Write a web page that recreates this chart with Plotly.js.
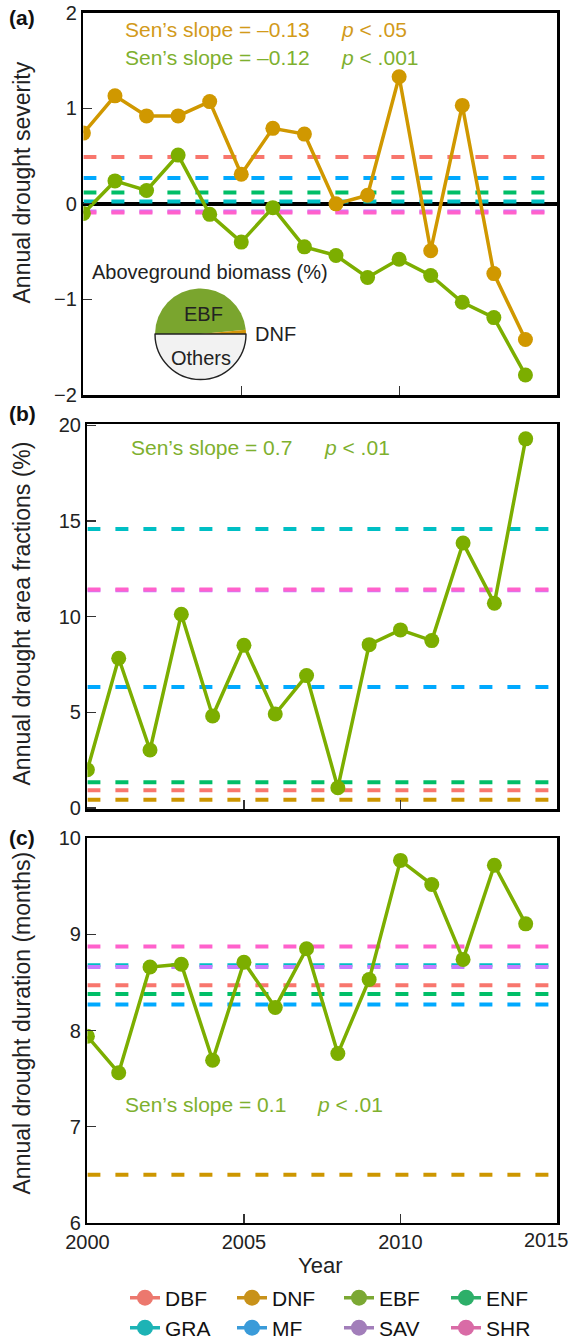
<!DOCTYPE html>
<html>
<head>
<meta charset="utf-8">
<script src="https://cdn.plot.ly/plotly-3.0.1.min.js"></script>
<style>
html, body { margin: 0; padding: 0; background: #ffffff; }
#chart { width: 573px; height: 1340px; }
</style>
</head>
<body>
<div id="chart"></div>
<script>
// ---------------- data ----------------
const years = [2000, 2001, 2002, 2003, 2004, 2005, 2006, 2007, 2008, 2009, 2010, 2011, 2012, 2013, 2014];
const xRange = [2000, 2015];
const yearTicks = [2000, 2005, 2010, 2015];
const yearTickText = ['2000', '2005', '2010', '2015'];

// (a) annual drought severity
const severityDNF = [0.74, 1.13, 0.92, 0.92, 1.07, 0.31, 0.79, 0.73, 0.00, 0.09, 1.33, -0.49, 1.03, -0.73, -1.42];
const severityEBF = [-0.10, 0.24, 0.14, 0.51, -0.11, -0.40, -0.04, -0.45, -0.54, -0.77, -0.58, -0.75, -1.03, -1.19, -1.79];
// (b) annual drought area fractions (%)
const areaEBF = [2.0, 7.83, 3.03, 10.13, 4.81, 8.51, 4.91, 6.92, 1.06, 8.54, 9.31, 8.75, 13.85, 10.7, 19.3];
// (c) annual drought duration (months)
const durationEBF = [7.94, 7.56, 8.66, 8.69, 7.69, 8.71, 8.24, 8.85, 7.76, 8.53, 9.77, 9.52, 8.74, 9.72, 9.11];

// vegetation types and their multi-year means (dashed reference lines)
const types = ['DBF', 'DNF', 'EBF', 'ENF', 'GRA', 'MF', 'SAV', 'SHR'];
const lineColors = ['#F8766D', '#CD9600', '#7CAE00', '#00BE67', '#00BFC4', '#00A9FF', '#C77CFF', '#FF61CC'];
const legendColors = ['#EC786E', '#C8921A', '#7BA833', '#2DAF69', '#1DB3B5', '#3A9BD9', '#A27EBA', '#D96BA6'];
const severityMeans = [0.49, null, null, 0.12, 0.025, 0.27, -0.08, -0.09];
const areaMeans = [0.93, 0.43, null, 1.35, 14.58, 6.33, 11.38, 11.42];
const durationMeans = [8.47, 6.5, null, 8.38, 8.68, 8.27, 8.66, 8.875];

// aboveground biomass share (%) inset pie
const biomassLabels = ['EBF', 'DNF', 'Others'];
const biomassShares = [48.5, 1.5, 50];
const biomassColors = ['#7AA52E', '#D3960A', '#F2F2F2'];

// trend annotations
const trendTexts = ['Sen\u2019s slope = \u20130.13', 'Sen\u2019s slope = \u20130.12', 'Sen\u2019s slope = 0.7', 'Sen\u2019s slope = 0.1'];
const pTexts = ['<i>p</i> &lt; .05', '<i>p</i> &lt; .001', '<i>p</i> &lt; .01', '<i>p</i> &lt; .01'];

// ---------------- helpers ----------------
const W = 573, H = 1340;
const px = v => v / W;
const py = v => 1 - v / H;
const FONT = 'Liberation Sans, Arial, Helvetica, sans-serif';
const DNFcol = '#D09800';
const EBFcol = '#7CAE00';
const textGold = '#D29A1A';
const textGreen = '#7EB02E';

const traces = [];

function meanLines(means, xa, ya) {
  means.forEach((m, i) => {
    if (m === null) return;
    traces.push({
      type: 'scatter', mode: 'lines', x: xRange, y: [m, m],
      xaxis: xa, yaxis: ya, showlegend: false, hoverinfo: 'skip',
      line: { color: lineColors[i], width: 4, dash: '13px,15px' }
    });
  });
}

function series(yvals, color, xa, ya) {
  traces.push({
    type: 'scatter', mode: 'lines+markers', x: years, y: yvals,
    xaxis: xa, yaxis: ya, showlegend: false,
    line: { color: color, width: 3.5 },
    marker: { color: color, size: 15 }
  });
}

meanLines(severityMeans, 'x', 'y');
series(severityDNF, DNFcol, 'x', 'y');
series(severityEBF, EBFcol, 'x', 'y');

meanLines(areaMeans, 'x2', 'y2');
series(areaEBF, EBFcol, 'x2', 'y2');

meanLines(durationMeans, 'x3', 'y3');
series(durationEBF, EBFcol, 'x3', 'y3');

// legend entries
types.forEach((t, i) => {
  traces.push({
    type: 'scatter', mode: 'lines+markers', x: [null], y: [null],
    xaxis: 'x3', yaxis: 'y3', name: t,
    legend: i < 4 ? 'legend' : 'legend2',
    line: { color: legendColors[i], width: 3.5 },
    marker: { color: legendColors[i], size: 16 },
    showlegend: true
  });
});

// inset pie
traces.push({
  type: 'pie', labels: biomassLabels, values: biomassShares, sort: false,
  direction: 'clockwise', rotation: -90, textinfo: 'none', hoverinfo: 'label+percent',
  showlegend: false,
  marker: { colors: biomassColors, line: { color: ['#7AA52E', '#D3960A', '#222222'], width: [0, 0, 1.4] } },
  domain: { x: [px(155), px(246)], y: [py(379.5), py(288.5)] }
});

function xAxis(domain, anchor, showLabels) {
  return {
    domain: domain, anchor: anchor, range: xRange,
    tickmode: 'array', tickvals: yearTicks,
    ticktext: yearTickText.map((t, i) => (i === yearTickText.length - 1 ? '' : t)),
    ticks: 'inside', ticklen: 9, tickwidth: 1.2, tickcolor: '#333',
    showticklabels: showLabels, tickfont: { family: FONT, size: 20, color: '#222' },
    showline: true, mirror: true, linecolor: '#000', linewidth: 2.5,
    showgrid: false, zeroline: false, fixedrange: true
  };
}
function yAxis(domain, anchor, range, dtick, zl) {
  return {
    domain: domain, anchor: anchor, range: range, dtick: dtick, tick0: 0,
    ticks: 'inside', ticklen: 9, tickwidth: 1.2, tickcolor: '#333',
    tickfont: { family: FONT, size: 20, color: '#222' },
    showline: true, mirror: true, linecolor: '#000', linewidth: 2.5,
    showgrid: false, zeroline: zl, zerolinecolor: '#000', zerolinewidth: 3.5, fixedrange: true
  };
}

const ann = [];
function txt(text, x, y, opts) {
  ann.push(Object.assign({
    text: text, x: px(x), y: py(y), xref: 'paper', yref: 'paper',
    showarrow: false, xanchor: 'center', yanchor: 'middle',
    font: { family: FONT, size: 21, color: '#222' }
  }, opts || {}));
}

// panel labels
txt('<b>(a)</b>', 22, 18, { font: { family: FONT, size: 21, color: '#111' } });
txt('<b>(b)</b>', 22, 413, { font: { family: FONT, size: 21, color: '#111' } });
txt('<b>(c)</b>', 22, 837, { font: { family: FONT, size: 21, color: '#111' } });

// y titles
txt('Annual drought severity', 21.5, 183, { textangle: -90, font: { family: FONT, size: 23, color: '#222' } });
txt('Annual drought area fractions (%)', 21.5, 614, { textangle: -90, font: { family: FONT, size: 23, color: '#222' } });
txt('Annual drought duration (months)', 21.5, 1023, { textangle: -90, font: { family: FONT, size: 23, color: '#222' } });
// x title
txt('Year', 320, 1265, { font: { family: FONT, size: 22, color: '#222' } });
// last year tick label, kept inside the figure edge as in the original
txt(yearTickText[yearTickText.length - 1], 571, 1240, { xanchor: 'right', font: { family: FONT, size: 20, color: '#222' } });

// trend texts
txt(trendTexts[0], 123, 29, { xanchor: 'left', font: { family: FONT, size: 21, color: textGold } });
txt(pTexts[0], 339, 29, { xanchor: 'left', font: { family: FONT, size: 21, color: textGold } });
txt(trendTexts[1], 123, 57.5, { xanchor: 'left', font: { family: FONT, size: 21, color: textGreen } });
txt(pTexts[1], 339, 57.5, { xanchor: 'left', font: { family: FONT, size: 21, color: textGreen } });
txt(trendTexts[2], 129, 447.5, { xanchor: 'left', font: { family: FONT, size: 21, color: textGreen } });
txt(pTexts[2], 322, 447.5, { xanchor: 'left', font: { family: FONT, size: 21, color: textGreen } });
txt(trendTexts[3], 123, 1104, { xanchor: 'left', font: { family: FONT, size: 21, color: textGreen } });
txt(pTexts[3], 315, 1104, { xanchor: 'left', font: { family: FONT, size: 21, color: textGreen } });

// pie labels
txt('Aboveground biomass (%)', 90, 272, { xanchor: 'left', font: { family: FONT, size: 20, color: '#222' } });
txt(biomassLabels[0], 203, 314, { font: { family: FONT, size: 20, color: '#222' } });
txt(biomassLabels[2], 201, 358, { font: { family: FONT, size: 20, color: '#222' } });
txt(biomassLabels[1], 253, 334, { xanchor: 'left', font: { family: FONT, size: 20, color: '#222' } });

const legendBase = {
  orientation: 'h', xanchor: 'left', yanchor: 'middle',
  font: { family: FONT, size: 21, color: '#111' },
  entrywidth: 62, entrywidthmode: 'pixels', bgcolor: 'rgba(0,0,0,0)', borderwidth: 0,
  itemclick: false, itemdoubleclick: false, tracegroupgap: 0
};

const layout = {
  width: W, height: H,
  margin: { l: 0, r: 0, t: 0, b: 0, autoexpand: false },
  paper_bgcolor: '#ffffff', plot_bgcolor: '#ffffff',
  font: { family: FONT, color: '#222' },
  showlegend: true,
  legend: Object.assign({}, legendBase, { x: px(125), y: py(1298) }),
  legend2: Object.assign({}, legendBase, { x: px(125), y: py(1328) }),
  xaxis: xAxis([px(83.4), px(557)], 'y', false),
  yaxis: yAxis([py(395), py(12.7)], 'x', [-2, 2], 1, true),
  xaxis2: xAxis([px(87.4), px(557)], 'y2', false),
  yaxis2: yAxis([py(809.3), py(424.3)], 'x2', [-0.07, 20.06], 5, false),
  xaxis3: xAxis([px(87.4), px(557)], 'y3', true),
  yaxis3: yAxis([py(1222.7), py(838.3)], 'x3', [6, 10], 1, false),
  annotations: ann
};

Plotly.newPlot('chart', traces, layout, { displayModeBar: false, staticPlot: true });
</script>
</body>
</html>
